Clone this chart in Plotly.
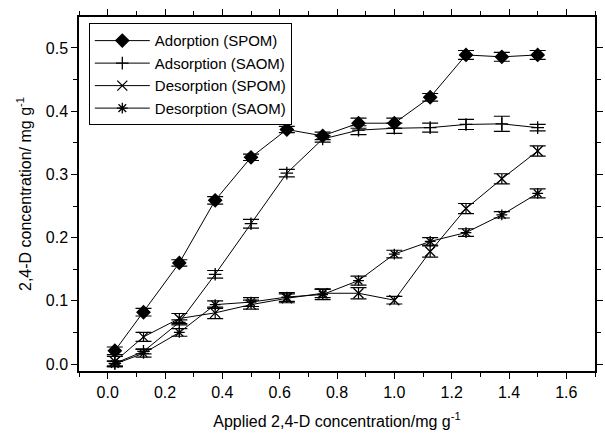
import plotly.graph_objects as go

x_applied = [0.025, 0.125, 0.25, 0.375, 0.5, 0.625, 0.75, 0.875, 1.0, 1.125, 1.25, 1.375, 1.5]

ads_spom = [0.021, 0.082, 0.160, 0.259, 0.327, 0.371, 0.361, 0.381, 0.381, 0.422, 0.489, 0.486, 0.489]
ads_spom_err = [0.006, 0.006, 0.005, 0.006, 0.005, 0.005, 0.006, 0.008, 0.008, 0.006, 0.007, 0.007, 0.007]

ads_saom = [0.001, 0.020, 0.066, 0.142, 0.222, 0.302, 0.356, 0.370, 0.373, 0.374, 0.379, 0.380, 0.374]
ads_saom_err = [0.004, 0.004, 0.004, 0.006, 0.007, 0.006, 0.005, 0.007, 0.008, 0.007, 0.008, 0.012, 0.005]

des_spom = [0.004, 0.043, 0.072, 0.081, 0.094, 0.104, 0.112, 0.112, 0.101, 0.178, 0.246, 0.293, 0.337]
des_spom_err = [0.008, 0.007, 0.008, 0.009, 0.007, 0.007, 0.007, 0.009, 0.006, 0.009, 0.008, 0.008, 0.008]

des_saom = [0.000, 0.017, 0.050, 0.094, 0.098, 0.106, 0.110, 0.132, 0.174, 0.194, 0.208, 0.236, 0.270]
des_saom_err = [0.004, 0.006, 0.006, 0.006, 0.007, 0.007, 0.008, 0.007, 0.006, 0.006, 0.006, 0.005, 0.007]

names = ["Adorption (SPOM)", "Adsorption (SAOM)", "Desorption (SPOM)", "Desorption (SAOM)"]
ys = [ads_spom, ads_saom, des_spom, des_saom]
errs = [ads_spom_err, ads_saom_err, des_spom_err, des_saom_err]
symbols = ["diamond", "cross-thin-open", "x-thin-open", "asterisk-open"]
sizes = [10, 9, 10, 9]

fig = go.Figure()
for name, y, e, sym, sz in zip(names, ys, errs, symbols, sizes):
    fig.add_trace(go.Scatter(
        x=x_applied, y=y, name=name, mode="lines+markers",
        line=dict(color="black", width=1),
        marker=dict(symbol=sym, size=sz, color="black",
                    line=dict(color="black", width=1.3)),
        error_y=dict(type="data", array=e, visible=True, color="black",
                     thickness=1.2, width=8),
    ))

axis_common = dict(
    showline=True, linecolor="black", linewidth=1.5, mirror="allticks",
    ticks="outside", ticklen=6, tickwidth=1.2, tickcolor="black",
    showgrid=False, zeroline=False,
    tickfont=dict(family="Liberation Sans, Arial", size=16, color="black"),
)

fig.update_layout(
    width=605, height=433,
    margin=dict(l=79, r=2, t=17, b=62),
    plot_bgcolor="white", paper_bgcolor="white",
    font=dict(family="Liberation Sans, Arial", color="black"),
    legend=dict(x=0.019, y=0.982, xanchor="left", yanchor="top",
                bordercolor="black", borderwidth=1, bgcolor="white",
                font=dict(size=15, family="Liberation Sans, Arial"),
                itemwidth=55, tracegroupgap=0),
    xaxis=dict(range=[-0.1, 1.7], tick0=0, dtick=0.2, tickformat=".1f",
               minor=dict(dtick=0.1, ticklen=4, tickcolor="black", ticks="outside"),
               title=dict(text="Applied 2,4-D concentration/mg g<sup>-1</sup>",
                          font=dict(size=16), standoff=16),
               **axis_common),
    yaxis=dict(range=[-0.011, 0.549], tick0=0, dtick=0.1, tickformat=".1f",
               minor=dict(dtick=0.05, ticklen=4, tickcolor="black", ticks="outside"),
               title=dict(text="2,4-D concentration/ mg g<sup>-1</sup>",
                          font=dict(size=16), standoff=10),
               **axis_common),
)

fig.write_html("out.html")
